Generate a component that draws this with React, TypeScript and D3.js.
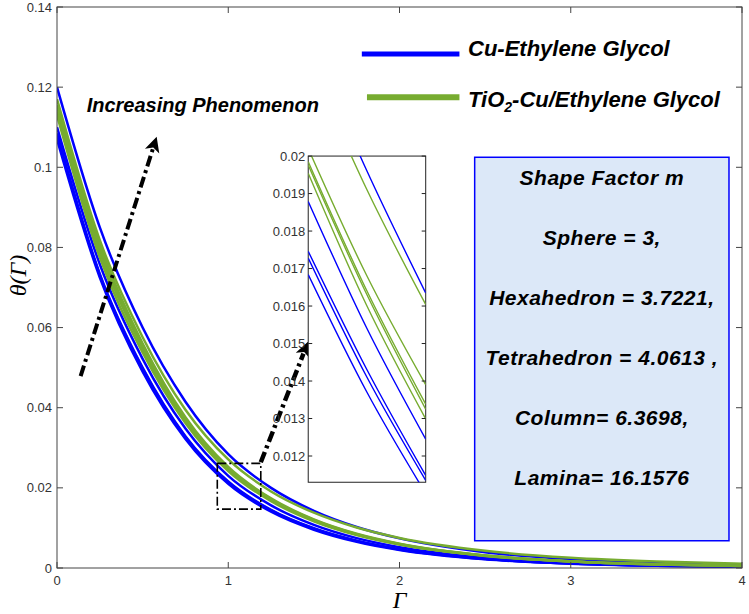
import React from "react";
import * as d3 from "d3";

// ---------- data ----------
const GAMMA = [0, 0.25, 0.5, 0.75, 1, 1.25, 1.5, 1.75, 2, 2.5, 3, 3.5, 4];

// Cu-Ethylene Glycol (blue), one curve per shape factor
const cuLamina = [0.120, 0.0850, 0.0600, 0.0415, 0.0284, 0.0200, 0.01426, 0.01024, 0.0074, 0.00395, 0.00217, 0.00122, 0.00071];
const cuColumn = [0.110, 0.0758, 0.0522, 0.0348, 0.0230, 0.01562, 0.01076, 0.00746, 0.0052, 0.00257, 0.0013, 0.00068, 0.00036];
const cuTetrahedron = [0.1085, 0.0734, 0.0500, 0.0329, 0.0216, 0.01451, 0.00991, 0.00681, 0.00471, 0.0023, 0.00115, 0.00059, 0.00031];
const cuHexahedron = [0.108, 0.0731, 0.0497, 0.0327, 0.0214, 0.01436, 0.00979, 0.00672, 0.00464, 0.00226, 0.00112, 0.00058, 0.0003];
const cuSphere = [0.107, 0.0725, 0.0490, 0.0322, 0.0210, 0.01404, 0.00955, 0.00653, 0.0045, 0.00218, 0.00108, 0.00055, 0.00029];

// TiO2-Cu/Ethylene Glycol (green)
const tiLamina = [0.117, 0.0818, 0.0576, 0.0395, 0.0271, 0.0191, 0.0138, 0.0101, 0.0075, 0.00428, 0.00256, 0.00162, 0.00107];
const tiColumn = [0.1155, 0.0806, 0.0560, 0.0376, 0.0252, 0.01736, 0.01214, 0.00855, 0.00607, 0.00314, 0.00167, 0.00092, 0.00052];
const tiTetrahedron = [0.115, 0.0797, 0.0554, 0.0372, 0.0249, 0.01715, 0.0120, 0.00845, 0.0060, 0.0031, 0.00165, 0.00091, 0.00051];
const tiHexahedron = [0.114, 0.0788, 0.0548, 0.0368, 0.0246, 0.01694, 0.01186, 0.00835, 0.00593, 0.00306, 0.00163, 0.0009, 0.0005];
const tiSphere = [0.113, 0.0775, 0.0538, 0.0362, 0.0242, 0.01667, 0.01166, 0.00821, 0.00583, 0.00301, 0.0016, 0.00088, 0.0005];

const X_TICKS = [0, 1, 2, 3, 4];
const X_TICK_LABELS = ["0", "1", "2", "3", "4"];
const Y_TICKS = [0, 0.02, 0.04, 0.06, 0.08, 0.1, 0.12, 0.14];
const Y_TICK_LABELS = ["0", "0.02", "0.04", "0.06", "0.08", "0.1", "0.12", "0.14"];

// inset (zoomed region)
const INSET_X = [1.0, 1.1, 1.2];
const insetCuLamina = [0.0232, 0.0196, 0.01635];
const insetCuColumn = [0.01879, 0.0154, 0.01245];
const insetCuTetrahedron = [0.01746, 0.0143, 0.01148];
const insetCuHexahedron = [0.01728, 0.0141, 0.01135];
const insetCuSphere = [0.01684, 0.0137, 0.0110];
const insetTiLamina = [0.0226, 0.0191, 0.01604];
const insetTiColumn = [0.0202, 0.0168, 0.0139];
const insetTiTetrahedron = [0.01985, 0.0164, 0.01338];
const insetTiHexahedron = [0.01976, 0.0163, 0.01325];
const insetTiSphere = [0.01954, 0.0160, 0.01299];
const INSET_Y_TICKS = [0.012, 0.013, 0.014, 0.015, 0.016, 0.017, 0.018, 0.019, 0.02];
const INSET_Y_LABELS = ["0.012", "0.013", "0.014", "0.015", "0.016", "0.017", "0.018", "0.019", "0.02"];

const LEGEND_LABELS = ["Cu-Ethylene Glycol", "-Cu/Ethylene Glycol"];
const SHAPE_LINES = [
  "Shape Factor m",
  "Sphere = 3,",
  "Hexahedron = 3.7221,",
  "Tetrahedron = 4.0613 ,",
  "Column= 6.3698,",
  "Lamina= 16.1576",
];

// ---------- layout / style ----------
const W = 749;
const H = 614;
const PLOT = { left: 57, right: 742, top: 7, bottom: 568 };
const BLUE = "#0000ff";
const GREEN = "#77ac30";
const AXIS = "#444";
const SANS = "'Liberation Sans', Arial, sans-serif";
const SERIF = "'Liberation Serif', 'Times New Roman', serif";

// annotation placement in data coordinates of the main axes
const INSET_BOX = { x0: 1.467, x1: 2.153, y0: 0.0214, y1: 0.1028 };
const INSET_DOMAIN_Y = [0.0113, 0.02];
const TEXT_BOX = { x0: 2.439, x1: 3.924, y0: 0.0068, y1: 0.1025 };
const ZOOM_BOX = { x0: 0.936, x1: 1.19, y0: 0.0147, y1: 0.0261 };
const ARROW_INC = { from: [0.138, 0.0479], to: [0.582, 0.1076] };
const ARROW_ZOOM = { from: [1.19, 0.0264], to: [1.467, 0.0565] };

function Arrow({ x1, y1, x2, y2, width, head }: any) {
  const dx = x2 - x1;
  const dy = y2 - y1;
  const len = Math.hypot(dx, dy);
  const ux = dx / len;
  const uy = dy / len;
  const nx = -uy;
  const ny = ux;
  const bx = x2 - ux * head;
  const by = y2 - uy * head;
  const hw = head * 0.5;
  const pts = [
    [x2, y2],
    [bx + nx * hw, by + ny * hw],
    [bx + ux * head * 0.25, by + uy * head * 0.25],
    [bx - nx * hw, by - ny * hw],
  ];
  return (
    <g>
      <line
        x1={x1}
        y1={y1}
        x2={bx + ux * 2}
        y2={by + uy * 2}
        stroke="#000"
        strokeWidth={width}
        strokeDasharray="11,4,3,4"
      />
      <polygon points={pts.map((p) => p.join(",")).join(" ")} fill="#000" />
    </g>
  );
}

export default function App() {
  const x = d3.scaleLinear().domain([0, 4]).range([PLOT.left, PLOT.right]);
  const y = d3.scaleLinear().domain([0, 0.14]).range([PLOT.bottom, PLOT.top]);

  const mainLine = d3
    .line<number>()
    .x((_, i) => x(GAMMA[i]))
    .y((d) => y(d))
    .curve(d3.curveMonotoneX);

  const blueSeries = [cuSphere, cuHexahedron, cuTetrahedron, cuColumn, cuLamina];
  const greenSeries = [tiSphere, tiHexahedron, tiTetrahedron, tiColumn, tiLamina];

  // inset scales
  const inL = x(INSET_BOX.x0);
  const inR = x(INSET_BOX.x1);
  const inT = y(INSET_BOX.y1);
  const inB = y(INSET_BOX.y0);
  const ix = d3.scaleLinear().domain([INSET_X[0], INSET_X[INSET_X.length - 1]]).range([inL, inR]);
  const iy = d3.scaleLinear().domain(INSET_DOMAIN_Y).range([inB, inT]);
  const insetLine = d3
    .line<number>()
    .x((_, i) => ix(INSET_X[i]))
    .y((d) => iy(d))
    .curve(d3.curveMonotoneX);
  const insetBlue = [insetCuSphere, insetCuHexahedron, insetCuTetrahedron, insetCuColumn, insetCuLamina];
  const insetGreen = [insetTiSphere, insetTiHexahedron, insetTiTetrahedron, insetTiColumn, insetTiLamina];

  const tbL = x(TEXT_BOX.x0);
  const tbR = x(TEXT_BOX.x1);
  const tbT = y(TEXT_BOX.y1);
  const tbB = y(TEXT_BOX.y0);
  const tbCx = (tbL + tbR) / 2;

  const tickLen = 6;

  return (
    <svg
      width={W}
      height={H}
      style={{ position: "absolute", left: 0, top: 0, display: "block", background: "#fff" }}
    >
      <defs>
        <clipPath id="plotClip">
          <rect x={PLOT.left} y={PLOT.top} width={PLOT.right - PLOT.left} height={PLOT.bottom - PLOT.top} />
        </clipPath>
        <clipPath id="insetClip">
          <rect x={inL} y={inT} width={inR - inL} height={inB - inT} />
        </clipPath>
      </defs>
      <rect x={0} y={0} width={W} height={H} fill="#fff" />

      {/* main curves */}
      <g clipPath="url(#plotClip)" fill="none">
        {blueSeries.map((s, i) => (
          <path key={"b" + i} d={mainLine(s) || ""} stroke={BLUE} strokeWidth={2.5} />
        ))}
        {greenSeries.map((s, i) => (
          <path key={"g" + i} d={mainLine(s) || ""} stroke={GREEN} strokeWidth={2.5} />
        ))}
      </g>

      {/* axes box */}
      <rect
        x={PLOT.left}
        y={PLOT.top}
        width={PLOT.right - PLOT.left}
        height={PLOT.bottom - PLOT.top}
        fill="none"
        stroke={AXIS}
        strokeWidth={1}
      />
      {X_TICKS.map((t, i) => (
        <g key={"xt" + i}>
          <line x1={x(t)} x2={x(t)} y1={PLOT.bottom} y2={PLOT.bottom - tickLen} stroke={AXIS} />
          <line x1={x(t)} x2={x(t)} y1={PLOT.top} y2={PLOT.top + tickLen} stroke={AXIS} />
          <text
            x={x(t)}
            y={PLOT.bottom + 17}
            textAnchor="middle"
            fontFamily={SANS}
            fontSize={13}
            fill="#333"
          >
            {X_TICK_LABELS[i]}
          </text>
        </g>
      ))}
      {Y_TICKS.map((t, i) => (
        <g key={"yt" + i}>
          <line x1={PLOT.left} x2={PLOT.left + tickLen} y1={y(t)} y2={y(t)} stroke={AXIS} />
          <line x1={PLOT.right} x2={PLOT.right - tickLen} y1={y(t)} y2={y(t)} stroke={AXIS} />
          <text
            x={PLOT.left - 5}
            y={y(t) + 4.5}
            textAnchor="end"
            fontFamily={SANS}
            fontSize={13}
            fill="#333"
          >
            {Y_TICK_LABELS[i]}
          </text>
        </g>
      ))}

      {/* axis titles */}
      <text
        x={(PLOT.left + PLOT.right) / 2}
        y={608}
        textAnchor="middle"
        fontFamily={SERIF}
        fontStyle="italic"
        fontSize={24}
        fill="#000"
      >
        Γ
      </text>
      <text
        transform={`translate(26, ${(PLOT.top + PLOT.bottom) / 2 - 12}) rotate(-90)`}
        textAnchor="middle"
        fontFamily={SERIF}
        fontStyle="italic"
        fontSize={24}
        fill="#000"
      >
        θ(Γ)
      </text>

      {/* zoom box */}
      <rect
        x={x(ZOOM_BOX.x0)}
        y={y(ZOOM_BOX.y1)}
        width={x(ZOOM_BOX.x1) - x(ZOOM_BOX.x0)}
        height={y(ZOOM_BOX.y0) - y(ZOOM_BOX.y1)}
        fill="none"
        stroke="#000"
        strokeWidth={1.6}
        strokeDasharray="9,3,2,3"
      />

      {/* arrows */}
      <Arrow
        x1={x(ARROW_INC.from[0])}
        y1={y(ARROW_INC.from[1])}
        x2={x(ARROW_INC.to[0])}
        y2={y(ARROW_INC.to[1])}
        width={4}
        head={15}
      />
      <Arrow
        x1={x(ARROW_ZOOM.from[0])}
        y1={y(ARROW_ZOOM.from[1])}
        x2={x(ARROW_ZOOM.to[0])}
        y2={y(ARROW_ZOOM.to[1])}
        width={4.5}
        head={15}
      />

      <text
        x={x(0.173)}
        y={y(0.1139)}
        fontFamily={SANS}
        fontStyle="italic"
        fontWeight="bold"
        fontSize={20}
        fill="#000"
      >
        Increasing Phenomenon
      </text>

      {/* inset */}
      <rect x={inL} y={inT} width={inR - inL} height={inB - inT} fill="#fff" stroke="#222" strokeWidth={1} />
      <g clipPath="url(#insetClip)" fill="none">
        {insetBlue.map((s, i) => (
          <path key={"ib" + i} d={insetLine(s) || ""} stroke={BLUE} strokeWidth={1.4} />
        ))}
        {insetGreen.map((s, i) => (
          <path key={"ig" + i} d={insetLine(s) || ""} stroke={GREEN} strokeWidth={1.4} />
        ))}
      </g>
      {INSET_Y_TICKS.map((t, i) => (
        <g key={"it" + i}>
          <line x1={inL} x2={inL + 4} y1={iy(t)} y2={iy(t)} stroke="#222" />
          <line x1={inR} x2={inR - 4} y1={iy(t)} y2={iy(t)} stroke="#222" />
          <text
            x={inL - 3}
            y={iy(t) + 4.5}
            textAnchor="end"
            fontFamily={SANS}
            fontSize={13}
            fill="#333"
          >
            {INSET_Y_LABELS[i]}
          </text>
        </g>
      ))}

      {/* legend */}
      <line x1={x(1.78)} x2={x(2.35)} y1={y(0.1283)} y2={y(0.1283)} stroke={BLUE} strokeWidth={5} />
      <text
        x={x(2.4)}
        y={y(0.1283) + 2}
        fontFamily={SANS}
        fontStyle="italic"
        fontWeight="bold"
        fontSize={22}
        fill="#000"
      >
        {LEGEND_LABELS[0]}
      </text>
      <line x1={x(1.81)} x2={x(2.35)} y1={y(0.1175)} y2={y(0.1175)} stroke={GREEN} strokeWidth={6} />
      <text
        x={x(2.4)}
        y={y(0.1175) + 10}
        fontFamily={SANS}
        fontStyle="italic"
        fontWeight="bold"
        fontSize={22}
        fill="#000"
      >
        <tspan>TiO</tspan>
        <tspan dy={5} fontSize={14}>
          2
        </tspan>
        <tspan dy={-5}>{LEGEND_LABELS[1]}</tspan>
      </text>

      {/* shape factor box */}
      <rect
        x={tbL}
        y={tbT}
        width={tbR - tbL}
        height={tbB - tbT}
        fill="#dce8f8"
        stroke={BLUE}
        strokeWidth={1.5}
      />
      {SHAPE_LINES.map((s, i) => (
        <text
          key={"sl" + i}
          x={tbCx}
          y={tbT + 28 + i * 60}
          textAnchor="middle"
          fontFamily={SANS}
          fontStyle="italic"
          fontWeight="bold"
          fontSize={21}
          letterSpacing={0.5}
          fill="#000"
        >
          {s}
        </text>
      ))}
    </svg>
  );
}
